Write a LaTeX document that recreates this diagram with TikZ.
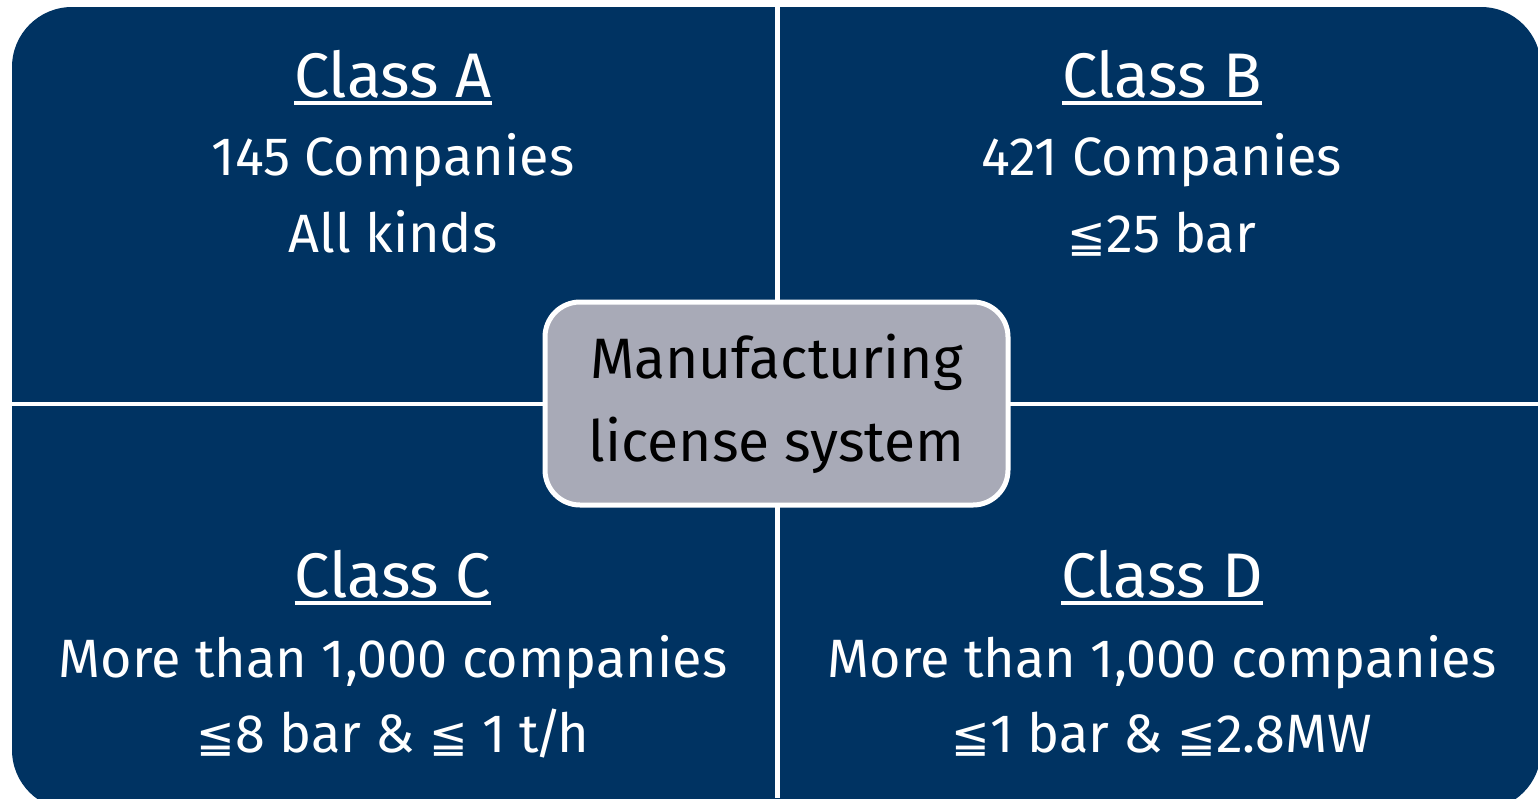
\documentclass[tikz,border=0pt]{standalone}
\usepackage{fontspec}
\setmainfont{Fira Sans}
\newfontfamily\symfont{DejaVu Sans}
\usetikzlibrary{positioning}
\definecolor{quadblue}{RGB}{0,51,98}
\definecolor{hubgrey}{RGB}{168,170,183}
\newcommand{\lesym}{{\symfont\fontsize{46}{60}\selectfont ≦}}
\newcommand{\ultitle}[1]{\setbox0\hbox{#1}\rlap{\color{white}\vrule height -4pt depth 8pt width \wd0}\box0}

\begin{document}
\begin{tikzpicture}[x=1pt,y=-1pt,
	title/.style={anchor=base,text=white,inner sep=0pt,font=\fontsize{63}{70}\selectfont},
	line/.style={anchor=base,text=white,inner sep=0pt,font=\fontsize{54}{70}\selectfont},
	hub/.style={draw=white,line width=5pt,fill=hubgrey,rounded corners=35pt,
		minimum width=463pt,minimum height=203pt,align=center,
		font=\fontsize{57}{83}\selectfont}]
\useasboundingbox (0,0) rectangle (1538,798);
\clip (0,0) rectangle (1538,798);
% quadrants
\fill[quadblue,rounded corners=60pt] (12,7) rectangle (1541,810);
\draw[white,line width=5pt] (777,0) -- (777,798);
\draw[white,line width=4pt] (0,404) -- (1538,404);
% class A
\node[title] (titleA) at (393,97) {\ultitle{Class A}};
\node[line] (countA) at (393,175) {145 Companies};
\node[line] (rangeA) at (393,252) {All kinds};
% class B
\node[title] (titleB) at (1162,97) {\ultitle{Class B}};
\node[line] (countB) at (1162,175) {421 Companies};
\node[line] (rangeB) at (1162,252) {\lesym25 bar};
% class C
\node[title] (titleC) at (393,597) {\ultitle{Class C}};
\node[line] (countC) at (393,677) {More than 1,000 companies};
\node[line] (rangeC) at (393,752) {\lesym8 bar \& \lesym\ 1 t\kern-5pt/\kern-5pt h};
% class D
\node[title] (titleD) at (1162,597) {\ultitle{Class D}};
\node[line] (countD) at (1162,677) {More than 1,000 companies};
\node[line] (rangeD) at (1162,752) {\lesym1 bar \& \lesym2.8MW};
% centre
\node[hub] (hub) at (776.5,403.5) {Manufacturing\\license system};
\end{tikzpicture}
\end{document}
